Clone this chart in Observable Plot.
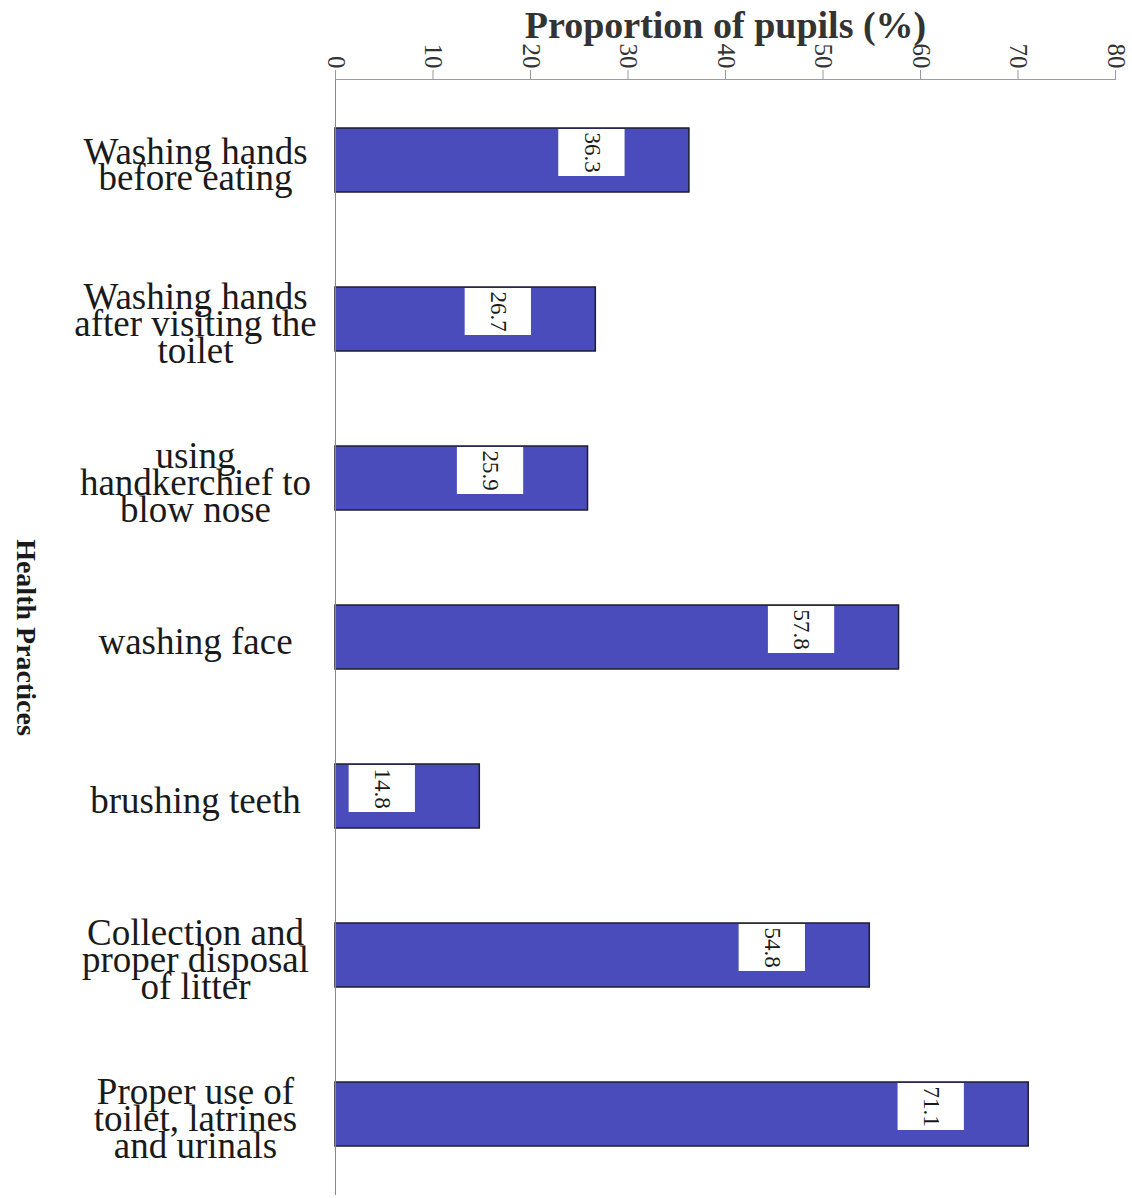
<!DOCTYPE html>
<html><head><meta charset="utf-8">
<script src="https://cdn.jsdelivr.net/npm/d3@7"></script>
<script src="https://cdn.jsdelivr.net/npm/@observablehq/plot@0.6"></script>
<style>body{margin:0;background:#fff;}</style>
</head><body><div id="chart"></div>
<script>
const categories = [
  "Washing hands\nbefore eating",
  "Washing hands\nafter visiting the\ntoilet",
  "using\nhandkerchief to\nblow nose",
  "washing face",
  "brushing teeth",
  "Collection and\nproper disposal\nof litter",
  "Proper use of\ntoilet, latrines\nand urinals"
];
const values = [36.3, 26.7, 25.9, 57.8, 14.8, 54.8, 71.1];
const valueLabels = ["36.3", "26.7", "25.9", "57.8", "14.8", "54.8", "71.1"];
const xTicks = [0, 10, 20, 30, 40, 50, 60, 70, 80];
const xTitle = "Proportion of pupils (%)";
const yTitle = "Health Practices";

const data = categories.map((c, i) => ({category: c, value: values[i], label: valueLabels[i]}));
const serif = "'Liberation Serif', 'Times New Roman', serif";

const chart = Plot.plot({
  width: 1132, height: 1198,
  marginTop: 79, marginLeft: 335, marginRight: 17, marginBottom: 3,
  style: {background: "#fff", fontFamily: serif, color: "#1a1a1a", overflow: "visible"},
  x: {domain: [0, 80], axis: null},
  y: {domain: categories, axis: null, paddingInner: 0.6, paddingOuter: 0.3},
  marks: [
    Plot.barX(data, {x: "value", y: "category", fill: "#4b4cbc", stroke: "#1e1e2e", strokeWidth: 1.5}),
    Plot.barX(data, {x1: d => d.value - 13.4, x2: d => d.value - 6.6, y: "category", fill: "white", insetBottom: 16, insetTop: 1}),
    Plot.text(data, {x: d => d.value - 10, y: "category", text: "label", rotate: 90, dy: -8, fontSize: 23, fill: "#1a1a1a"}),
    Plot.ruleX([0], {stroke: "#888"}),
    Plot.frame({anchor: "top", stroke: "#9a9aa8", strokeDasharray: "2,1"}),
    Plot.axisX({anchor: "top", ticks: xTicks, tickSize: 10, tickFormat: () => "", stroke: "#999", label: null}),
    Plot.text(xTicks, {x: d => d, text: d => String(d), frameAnchor: "top", dy: -11, rotate: 90, textAnchor: "end", lineAnchor: "middle", fontSize: 25, fill: "#333"}),
    Plot.text(categories, {y: d => d, text: d => d, frameAnchor: "left", dx: -140, dy: 8, textAnchor: "middle", lineHeight: 0.72, fontSize: 37, fill: "#1a1a1a"}),
    Plot.text([xTitle], {text: d => d, frameAnchor: "top", dy: -54, lineAnchor: "middle", fontSize: 38, fontWeight: "bold", fill: "#333"}),
    Plot.text([yTitle], {text: d => d, frameAnchor: "left", dx: -310, rotate: 90, textAnchor: "middle", lineAnchor: "middle", fontSize: 28, fontWeight: "bold", letterSpacing: -1.5, fill: "#1a1a1a"})
  ]
});
document.getElementById("chart").appendChild(chart);
</script>
</body></html>
